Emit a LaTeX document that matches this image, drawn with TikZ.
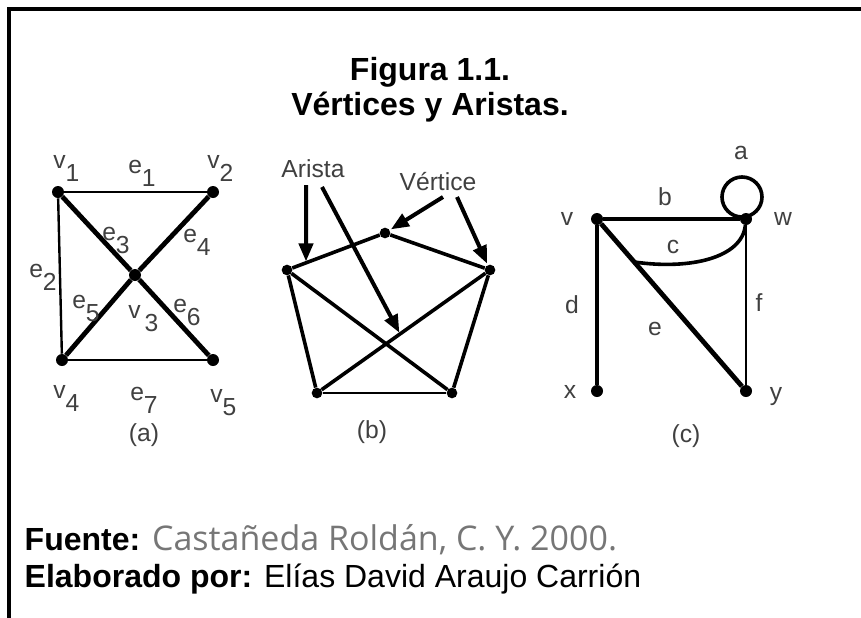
\documentclass[tikz,border=0pt]{standalone}
\usepackage{fontspec}
\setmainfont{Liberation Sans}
\newfontfamily\graysans{Open Sans}
\usetikzlibrary{arrows.meta,calc}

\definecolor{labgray}{HTML}{404040}
\definecolor{srcgray}{HTML}{767676}

% label with a lowered index, as in the scanned figure
\newcommand{\sublab}[2]{#1\raisebox{-10pt}{#2}}

\tikzset{
  vtx/.style={circle, fill=black, inner sep=0pt, minimum size=9pt},
  smallvtx/.style={vtx, minimum size=8pt},
  lab/.style={text=labgray, inner sep=0pt, font=\fontsize{18.5}{18.5}\selectfont},
  sublabel/.style={lab, anchor=base west},
  edgethin/.style={line width=1.8pt},
  edgethick/.style={line width=3.6pt},
  edgemid/.style={line width=2.7pt},
  pointer/.style={line width=3pt, -{Triangle[length=13.5pt,width=10.5pt]}, shorten >=1pt},
  titletext/.style={font=\bfseries\fontsize{24}{28}\selectfont, anchor=base},
}

\begin{document}
\begin{tikzpicture}[x=0.75pt, y=-0.75pt]
\useasboundingbox (0,0) rectangle (861,618);

% frame of the page
\draw[line width=2.8pt] (9,618) -- (9,9) -- (861,9);

% caption
\node[titletext] (tit1) at (430,80) {Figura 1.1.};
\node[titletext] (tit2) at (430,115) {Vértices y Aristas.};

% (a) vertices and edges
\node[vtx] (v1) at (58,192) {};
\node[vtx] (v2) at (213,192) {};
\node[vtx] (v3) at (135,275) {};
\node[vtx] (v4) at (62,360) {};
\node[vtx] (v5) at (213,360) {};
\draw[edgethin] (v1) -- (v2);
\draw[edgethin] (v1) -- (v4);
\draw[edgethin] (v4) -- (v5);
\draw[edgethick] (v1) -- (v3);
\draw[edgethick] (v3) -- (v5);
\draw[edgethick] (v2) -- (v3);
\draw[edgethick] (v3) -- (v4);

\node[sublabel] (lv1) at (53,168) {\sublab{v}{1}};
\node[sublabel] (le1) at (128,173) {\sublab{e}{1}};
\node[sublabel] (lv2) at (207,168) {\sublab{v}{2}};
\node[sublabel] (le2) at (29,277) {\sublab{e}{2}};
\node[sublabel] (le3) at (102,240) {\sublab{e}{3}};
\node[sublabel] (le4) at (183,242) {\sublab{e}{4}};
\node[sublabel] (le5) at (72,308) {\sublab{e}{5}};
\node[sublabel] (lv3) at (128,318) {\sublab{v}{\,3}};
\node[sublabel] (le6) at (173,312) {\sublab{e}{6}};
\node[sublabel] (lv4) at (53,398) {\sublab{v}{4}};
\node[sublabel] (le7) at (130,400) {\sublab{e}{7}};
\node[sublabel] (lv5) at (210,402) {\sublab{v}{5}};
\node[lab] (capa) at (144,435) {(a)};

% (b) vertices and edges
\node[smallvtx] (bt) at (385,233) {};
\node[smallvtx] (bl) at (287,270) {};
\node[smallvtx] (br) at (490,270) {};
\node[smallvtx] (bbl) at (317,393) {};
\node[smallvtx] (bbr) at (452,393) {};
\draw[edgemid] (bl) -- (bt);
\draw[edgemid] (bt) -- (br);
\draw[edgemid] (bl) -- (bbl);
\draw[edgemid] (br) -- (bbr);
\draw[edgethin] (bbl) -- (bbr);
\draw[edgemid] (bl) -- (bbr);
\draw[edgemid] (br) -- (bbl);

\node[lab] (arista) at (313,169) {Arista};
\node[lab] (vertice) at (438,182) {Vértice};
\coordinate (ar1) at (306,185);
\coordinate (ar2) at (322,187);
\coordinate (ve1) at (443,197);
\coordinate (ve2) at (457,197);
\coordinate (hit1) at ($(bl)!0.194!(bt)$);
\coordinate (hit2) at ($(br)!0.52!(bbl)$);
\draw[pointer] (ar1) -- (hit1);
\draw[pointer] (ar2) -- (hit2);
\draw[pointer] (ve1) -- (bt);
\draw[pointer] (ve2) -- (br);
\node[lab] (capb) at (372,432) {(b)};

% (c) vertices and edges
\node[vtx] (cv) at (597,219) {};
\node[vtx] (cw) at (746,219) {};
\node[vtx] (cx) at (597,391) {};
\node[vtx] (cy) at (746,391) {};
\coordinate (cmeet) at ($(cv)!0.25!(cy)$);
\draw[edgemid] (cv) -- (cw);
\draw[edgethick] (cv) -- (cx);
\draw[edgethick] (cv) -- (cy);
\draw[edgethin] (cw) -- (cy);
\draw[edgemid] (cw) .. controls (742,258) and (690,270) .. (cmeet);
\draw[edgemid] ([shift={(-4,-22)}]cw.center) circle (20);

\node[lab] (la) at (741,153) {a};
\node[lab] (lb) at (665,197) {b};
\node[lab] (lc) at (673,247) {c};
\node[lab] (ld) at (572,305) {d};
\node[lab] (le) at (655,329) {e};
\node[lab] (lf) at (759,303) {f};
\node[lab] (lv) at (567,219) {v};
\node[lab] (lw) at (783,219) {w};
\node[lab] (lx) at (570,392) {x};
\node[lab, anchor=base] (ly) at (776,400) {y};
\node[lab] (capc) at (686,436) {(c)};

% source lines
\node[anchor=base west, font=\fontsize{24}{28}\selectfont] (fuente) at (20,550)
  {\textbf{Fuente:} {\graysans\color{srcgray}\fontsize{25.5}{28}\selectfont Castañeda Roldán, C. Y. 2000.}};
\node[anchor=base west, font=\fontsize{24}{28}\selectfont] (autor) at (20,587)
  {\textbf{Elaborado por:} Elías David Araujo Carrión};
\end{tikzpicture}
\end{document}
